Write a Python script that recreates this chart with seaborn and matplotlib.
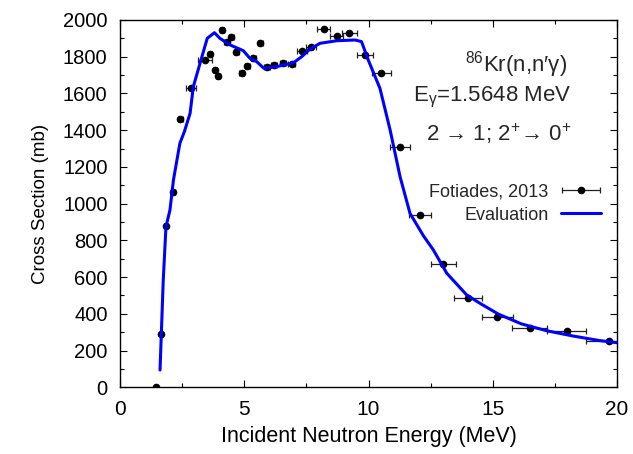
import matplotlib
matplotlib.use("Agg")
import matplotlib.pyplot as plt
from matplotlib.ticker import MultipleLocator
from matplotlib.legend_handler import HandlerErrorbar
from matplotlib.container import ErrorbarContainer
import seaborn as sns
import pandas as pd

# Experimental data (Fotiades, 2013)
exp_energy = [1.45, 1.64, 1.85, 2.12, 2.43, 2.87, 3.42, 3.63, 3.81, 3.94, 4.12, 4.29,
              4.47, 4.67, 4.90, 5.12, 5.37, 5.65, 5.90, 6.21, 6.55, 6.91, 7.31, 7.69,
              8.20, 8.72, 9.23, 9.86, 10.52, 11.27, 12.07, 13.01, 14.02, 15.18, 16.49,
              17.97, 19.67]
exp_xs = [0, 289, 877, 1065, 1463, 1630, 1782, 1813, 1729, 1697, 1946, 1882,
          1909, 1824, 1713, 1748, 1791, 1873, 1746, 1755, 1766, 1759, 1831, 1855,
          1949, 1915, 1931, 1810, 1710, 1310, 940, 673, 488, 385, 323,
          305, 252]
exp_dE = [0.05, 0.05, 0.06, 0.08, 0.1, 0.2, 0.28, 0.08, 0.08, 0.08, 0.08, 0.1,
          0.1, 0.1, 0.1, 0.1, 0.1, 0.1, 0.12, 0.12, 0.13, 0.14, 0.2, 0.2,
          0.27, 0.27, 0.3, 0.33, 0.37, 0.4, 0.45, 0.5, 0.56, 0.62, 0.71,
          0.8, 0.9]

# Evaluation curve
eval_energy = [1.61, 1.74, 1.85, 2.01, 2.15, 2.41, 2.59, 2.82, 2.95, 3.22, 3.51, 3.80,
               4.02, 4.43, 4.96, 5.23, 5.50, 5.79, 6.31, 6.98, 7.31, 7.65, 8.05, 8.72,
               9.46, 9.72, 9.99, 10.46, 10.87, 11.27, 11.67, 12.21, 12.61, 13.15, 13.95,
               14.49, 15.22, 16.16, 17.17, 18.24, 19.32, 20.0]
eval_xs = [94, 584, 875, 965, 1129, 1329, 1392, 1492, 1637, 1764, 1900, 1931,
           1900, 1864, 1833, 1791, 1773, 1737, 1746, 1767, 1800, 1842, 1873, 1887,
           1891, 1882, 1782, 1628, 1401, 1147, 947, 825, 748, 621, 503,
           457, 399, 345, 308, 279, 254, 243]

x_ticks = [0, 5, 10, 15, 20]
y_ticks = [0, 200, 400, 600, 800, 1000, 1200, 1400, 1600, 1800, 2000]

sns.set_theme(style="ticks")
plt.rcParams['font.family'] = ['Liberation Sans', 'DejaVu Sans']
plt.rcParams['mathtext.fontset'] = 'custom'
plt.rcParams['mathtext.rm'] = 'Liberation Sans'
plt.rcParams['mathtext.it'] = 'Liberation Sans'

fig = plt.figure(figsize=(6.33, 4.54), dpi=100)
ax = fig.add_axes([0.1896, 0.1469, 0.9747 - 0.1896, 0.956 - 0.1469])

df_eval = pd.DataFrame({"E": eval_energy, "xs": eval_xs})
ax.errorbar(exp_energy, exp_xs, xerr=exp_dE, fmt='o', color='black', ms=4.5,
            elinewidth=0.9, capsize=2.5, capthick=0.9, ecolor='#222222',
            label='Fotiades, 2013', zorder=3)
sns.lineplot(data=df_eval, x="E", y="xs", ax=ax, color='#0000ff', lw=2.2,
             label='Evaluation', zorder=4, sort=False)

ax.set_xlim(0, 20)
ax.set_ylim(0, 2000)
ax.set_xticks(x_ticks)
ax.set_yticks(y_ticks)
ax.xaxis.set_minor_locator(MultipleLocator(2.5))
ax.yaxis.set_minor_locator(MultipleLocator(100))
ax.tick_params(which='both', direction='in', top=True, right=True, colors='black',
               width=0.8)
ax.tick_params(which='major', length=5)
ax.tick_params(which='minor', length=3)
ax.tick_params(axis='x', pad=9, labelsize=15)
ax.tick_params(axis='y', pad=9, labelsize=14.5)
for s in ax.spines.values():
    s.set_color('black')
    s.set_linewidth(1.0)

ax.set_xlabel("Incident Neutron Energy (MeV)", fontsize=15.5, color='black', labelpad=5)
ax.set_ylabel("Cross Section (mb)", fontsize=13.5, color='black', labelpad=10)

ax.text(0.899, 0.878, r"$^{86}$Kr(n,n′γ)", transform=ax.transAxes, ha='right',
        va='center', fontsize=16)
ax.text(0.909, 0.79, r"E$_{γ}$=1.5648 MeV", transform=ax.transAxes, ha='right',
        va='center', fontsize=16)
ax.text(0.909, 0.69, r"2 → 1; 2$^{+}$→ 0$^{+}$", transform=ax.transAxes, ha='right',
        va='center', fontsize=16)

handles, labels = ax.get_legend_handles_labels()
order = [labels.index('Fotiades, 2013'), labels.index('Evaluation')]
ax.legend([handles[i] for i in order], [labels[i] for i in order],
          loc='upper right', bbox_to_anchor=(0.982, 0.575), frameon=False,
          markerfirst=False, fontsize=13, handlelength=2.2,
          borderaxespad=0, labelspacing=0.35, handletextpad=0.7,
          handler_map={ErrorbarContainer: HandlerErrorbar(xerr_size=1.05)})

fig.savefig("out.png", dpi=100)
